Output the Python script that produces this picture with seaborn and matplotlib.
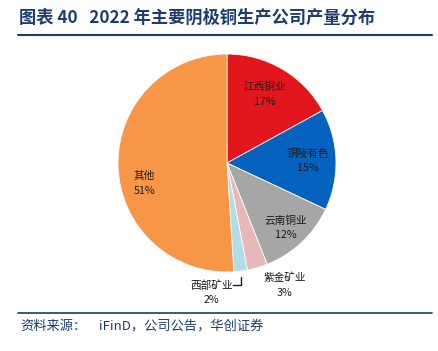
import matplotlib
matplotlib.use("Agg")
import matplotlib.pyplot as plt
import seaborn as sns
import numpy as np

sns.set_theme(style="white")
plt.rcParams['font.family'] = ['Noto Sans CJK SC', 'DejaVu Sans']

companies = ["江西铜业", "铜陵有色", "云南铜业", "紫金矿业", "西部矿业", "其他"]
shares = [17, 15, 12, 3, 2, 51]
colors = ["#E3151D", "#0562BE", "#A6A6A6", "#E6B9B8", "#B0DDE8", "#F79646"]

# label placement style (radius fraction, angle offset in degrees)
label_radius = [0.72, 0.74, 0.80, 1.24, 1.20, 0.78]
label_dangle = [2, 0, -1, 9, -14, 12]

fig = plt.figure(figsize=(4.38, 3.51), dpi=100)
L = 1.5
r_px = 109
cx, cy = 227, 351 - 163
ax = fig.add_axes([(cx - L * r_px) / 438, (cy - L * r_px) / 351,
                   2 * L * r_px / 438, 2 * L * r_px / 351])
wedges, _ = ax.pie(shares, colors=colors, startangle=90, counterclock=False,
                   radius=1, wedgeprops=dict(linewidth=0.6, edgecolor="white"))
ax.set_xlim(-L, L)
ax.set_ylim(-L, L)
ax.set_aspect("equal")
ax.axis("off")

for w, name, s, rr, da in zip(wedges, companies, shares, label_radius, label_dangle):
    ang = np.deg2rad((w.theta1 + w.theta2) / 2 + da)
    x, y = rr * np.cos(ang), rr * np.sin(ang)
    ax.text(x, y, f"{name}\n{s}%", ha="center", va="center", fontsize=7.7,
            color="#1a1a1a", linespacing=1.55, clip_on=False)

# leader line for 西部矿业
w = wedges[4]
ang = np.deg2rad((w.theta1 + w.theta2) / 2)
x0, y0 = 1.0 * np.cos(ang), 1.0 * np.sin(ang)
ax.plot([x0, x0, x0 - 0.07], [y0 - 0.05, y0 - 0.13, y0 - 0.13],
        color="#1a1a1a", lw=1.0, clip_on=False)

navy = "#1F3A6E"
fig.text(19 / 438, 1 - 18 / 351, "图表 40   2022 年主要阴极铜生产公司产量分布",
         fontsize=12.4, fontweight="bold", color=navy, ha="left", va="center")
fig.add_artist(plt.Line2D([18 / 438, 432 / 438], [1 - 35 / 351, 1 - 35 / 351],
                          color=navy, lw=1.5))
fig.add_artist(plt.Line2D([18 / 438, 432 / 438], [1 - 313 / 351, 1 - 313 / 351],
                          color=navy, lw=1.2))
fig.text(20 / 438, 1 - 326 / 351, "资料来源：", fontsize=9.5, style="italic",
         color=navy, ha="left", va="center")
fig.text(99 / 438, 1 - 326 / 351, "iFinD，公司公告，华创证券",
         fontsize=9.5, style="italic", color=navy, ha="left", va="center")

fig.savefig("out.png", dpi=100)
